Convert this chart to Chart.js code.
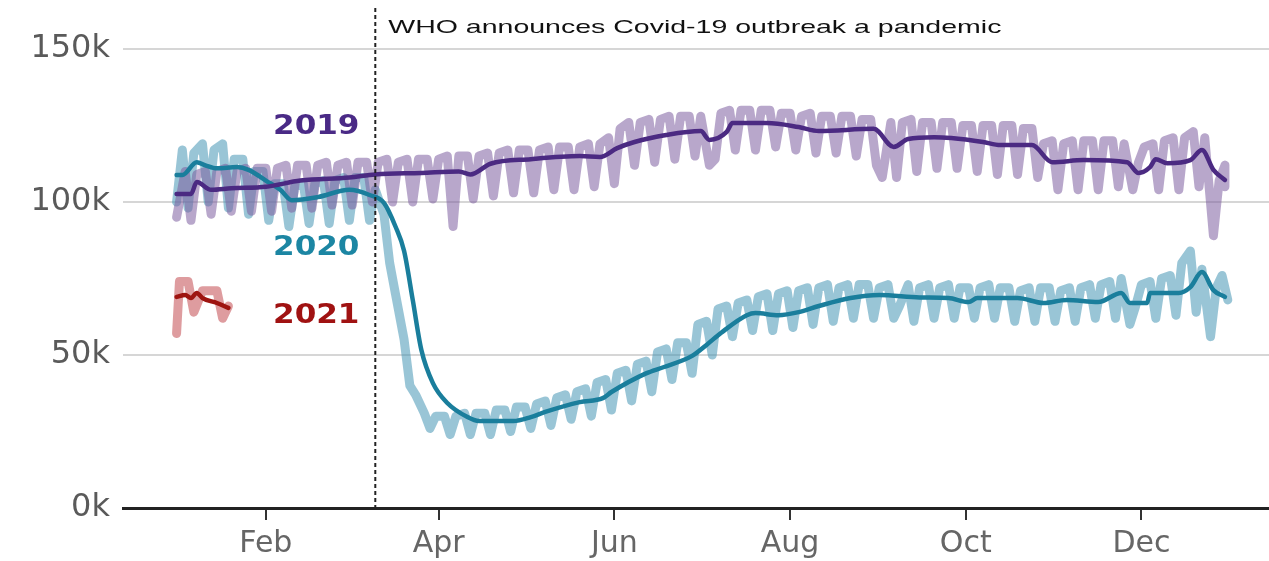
<!DOCTYPE html>
<html>
<head>
<meta charset="utf-8">
<script src="https://cdn.jsdelivr.net/npm/chart.js@4.4.1/dist/chart.umd.min.js"></script>
<style>
html, body { margin: 0; padding: 0; background: #fff; }
canvas { display: block; }
</style>
</head>
<body>
<canvas id="dailyChart" width="1269" height="561"></canvas>
<script>
// x = day of the year (0 = 1 Jan), values in thousands
var tickDays = [31, 91, 152, 213, 274, 335];
var tickLabels = ['Feb', 'Apr', 'Jun', 'Aug', 'Oct', 'Dec'];
var yTicks = [0, 50, 100, 150];
var pandemicDay = 69;
var pandemicNote = 'WHO announces Covid-19 outbreak a pandemic';
var years = ['2019', '2020', '2021'];

// daily counts read week by week: tuesday level, friday level, sunday low
var tue2019 = [95, 109, 110, 110, 111, 111, 112, 112, 112, 113, 113, 113, 114, 114, 115, 115, 116, 117, 117, 118, 118, 119,
  124, 126, 127, 128, 128, 129, 130, 130, 129, 128, 128, 128, 127, 108, 126, 126, 126, 125, 125, 125, 124, 119, 119, 120,
  120, 119, 118, 120, 121, 121, 112];
var fri2019 = [110, 110, 111, 111, 111, 112, 112, 113, 113, 113, 114, 114, 114, 115, 115, 116, 117, 117, 118, 118, 119, 121,
  126, 127, 128, 128, 112, 130, 130, 130, 129, 129, 128, 128, 127, 126, 127, 126, 126, 125, 125, 125, 124, 120, 120, 120,
  120, 104, 119, 121, 123, 89, 105];
var sun2019 = [94, 96, 97, 97, 97, 98, 98, 99, 99, 100, 100, 100, 101, 92, 101, 102, 103, 103, 104, 104, 105, 106,
  112, 113, 114, 115, 114, 117, 117, 118, 117, 116, 116, 115, 112, 108, 110, 111, 111, 110, 109, 109, 108, 104, 104, 104,
  105, 113, 104, 104, 105, 107];

var tue2020 = [100, 116, 117, 114, 110, 106, 105, 106, 107, 108, 104, 70, 37, 30, 30, 31, 32, 33, 34, 36, 38, 41,
  44, 47, 51, 54, 60, 65, 67, 69, 70, 71, 72, 72, 73, 72, 66, 72, 72, 72, 72, 72, 71, 72, 71, 72,
  73, 75, 73, 75, 80, 78, 76];
var fri2020 = [117, 119, 119, 114, 110, 106, 106, 107, 108, 108, 96, 55, 31, 30, 31, 31, 32, 33, 35, 37, 39, 42,
  45, 48, 52, 54, 61, 66, 68, 70, 71, 72, 73, 73, 73, 73, 73, 73, 73, 72, 73, 72, 72, 72, 72, 73,
  74, 60, 74, 76, 84, 56, 68];
var sun2020 = [98, 100, 98, 96, 94, 92, 93, 93, 94, 94, 80, 40, 26, 24, 24, 24, 25, 26, 27, 29, 30, 32,
  35, 38, 42, 44, 50, 56, 58, 58, 59, 60, 61, 62, 62, 62, 61, 62, 62, 62, 62, 61, 61, 61, 61, 62,
  62, 66, 62, 63, 64, 72];

var rawDays2021 = [0, 1, 4, 6, 9, 14, 16, 18];
var rawVals2021 = [57, 74, 74, 64, 71, 71, 62, 66];

// 7-day averages
var avgDays2019 = [0, 5, 7, 12, 19, 31, 43, 60, 69, 85, 98, 102, 109, 123, 140, 147, 153, 159, 170, 182,
  185, 191, 193, 205, 216, 223, 242, 249, 254, 263, 269, 280, 286, 297, 304, 315, 330, 334, 338, 340,
  344, 352, 356, 360, 364];
var avgVals2019 = [102.6, 102.6, 106.5, 104, 104.5, 105, 107, 108, 109, 109.5, 110, 109, 112.5, 114, 115, 114.7, 117.6, 119.6, 121.9, 123.2,
  120.3, 122.9, 125.8, 125.8, 124.5, 123.2, 123.9, 118, 120.6, 121.2, 120.9, 119.6, 118.6, 118.6, 113, 113.7, 113, 109.5, 111.4, 114,
  112.7, 113.7, 117, 110.5, 107.2];
var avgDays2020 = [0, 2, 7, 10, 14, 21, 25, 31, 36, 40, 49, 60, 67, 72, 76, 79, 82, 85, 89, 94,
  101, 105, 117, 123, 128, 140, 148, 151, 163, 169, 179, 184, 189, 198, 201, 209, 216, 223, 234, 244,
  258, 268, 275, 278, 292, 301, 309, 320, 328, 331, 337, 338, 348, 352, 356, 360, 364];
var avgVals2020 = [108.8, 108.8, 113, 112, 111, 111.4, 110.5, 107, 104, 100.6, 101.6, 104, 102.3, 99.7, 92, 84, 68, 51.6, 40.8, 34.3,
  29.7, 28.4, 28.4, 29.7, 31.4, 34.6, 35.9, 37.9, 44, 46, 49.7, 53.3, 57.2, 63, 63.7, 63, 64, 66, 68.6, 69.6,
  68.8, 68.6, 67.3, 68.6, 68.6, 67, 68, 67.3, 70.3, 67, 67, 70.3, 70.3, 72.2, 77.1, 71.2, 69];
var avgDays2021 = [0, 3, 5, 7, 9, 14, 18];
var avgVals2021 = [69, 69.6, 68.6, 70.3, 68.6, 67, 65.4];

// monday = day of year of the first week's monday
function weekly(tue, fri, sun, monday, lastDay) {
  var pts = [];
  for (var i = 0; i < tue.length; i++) {
    pts.push({x: Math.max(0, monday + 7 * i + 1), y: tue[i]});
    pts.push({x: Math.min(lastDay, monday + 7 * i + 4), y: fri[i]});
    if (i < sun.length) pts.push({x: monday + 7 * i + 6, y: sun[i]});
  }
  return pts;
}

function pairs(days, vals) {
  return days.map(function(d, i) { return {x: d, y: vals[i]}; });
}

function rawLine(data, color) {
  return {data: data, borderColor: color, borderWidth: 9, pointRadius: 0, tension: 0,
    borderJoinStyle: 'round', borderCapStyle: 'round', order: 2};
}

function avgLine(data, color) {
  return {data: data, borderColor: color, borderWidth: 4.5, pointRadius: 0,
    cubicInterpolationMode: 'monotone', borderJoinStyle: 'round', borderCapStyle: 'round', order: 1};
}

function wideText(ctx, text, x, y, font, color, sx) {
  ctx.save();
  ctx.font = font;
  ctx.fillStyle = color;
  ctx.textBaseline = 'middle';
  ctx.textAlign = 'left';
  ctx.translate(x, y);
  ctx.scale(sx, 1);
  ctx.fillText(text, 0, 0);
  ctx.restore();
}

var notes = {
  id: 'notes',
  afterDatasetsDraw: function(chart) {
    var ctx = chart.ctx, xs = chart.scales.x, ys = chart.scales.y, area = chart.chartArea;
    var px = xs.getPixelForValue(pandemicDay);
    ctx.save();
    ctx.strokeStyle = '#222';
    ctx.lineWidth = 2;
    ctx.setLineDash([4, 3]);
    ctx.beginPath();
    ctx.moveTo(px, area.top);
    ctx.lineTo(px, area.bottom);
    ctx.stroke();
    ctx.restore();

    wideText(ctx, pandemicNote, px + 13, ys.getPixelForValue(157), '19px "Liberation Sans"', '#111', 1.5);
    var at = [124.5, 85, 62.7];
    var colors = ['#4a2a86', '#1c86a3', '#a01212'];
    years.forEach(function(t, i) {
      wideText(ctx, t, xs.getPixelForValue(33.5), ys.getPixelForValue(at[i]), 'bold 27px "DejaVu Sans"', colors[i], 1.15);
    });
  }
};

new Chart(document.getElementById('dailyChart').getContext('2d'), {
  type: 'line',
  data: {
    datasets: [
      rawLine(weekly(tue2019, fri2019, sun2019, -1, 364), 'rgba(125, 95, 160, 0.55)'),
      rawLine(weekly(tue2020, fri2020, sun2020, -2, 365), 'rgba(70, 150, 180, 0.55)'),
      rawLine(pairs(rawDays2021, rawVals2021), 'rgba(200, 90, 95, 0.6)'),
      avgLine(pairs(avgDays2019, avgVals2019), '#4b2a82'),
      avgLine(pairs(avgDays2020, avgVals2020), '#1a7e9c'),
      avgLine(pairs(avgDays2021, avgVals2021), '#9e1410')
    ]
  },
  options: {
    responsive: false,
    animation: false,
    devicePixelRatio: 1,
    layout: {padding: {top: 8, left: 0, right: 0, bottom: 0}},
    plugins: {legend: {display: false}, tooltip: {enabled: false}},
    scales: {
      x: {
        type: 'linear',
        min: -18.6,
        max: 379.3,
        afterBuildTicks: function(s) { s.ticks = tickDays.map(function(d) { return {value: d}; }); },
        afterFit: function(s) { s.height = 53; s.paddingLeft = 0; s.paddingRight = 0; },
        ticks: {
          padding: 6,
          color: '#666',
          font: {family: '"DejaVu Sans"', size: 30},
          callback: function(v) { return tickLabels[tickDays.indexOf(v)]; }
        },
        grid: {drawOnChartArea: false, tickLength: 12, color: '#333', lineWidth: 2},
        border: {color: '#222', width: 3}
      },
      y: {
        min: 0,
        max: 163.4,
        afterBuildTicks: function(s) { s.ticks = yTicks.map(function(v) { return {value: v}; }); },
        afterFit: function(s) { s.width = 123; s.paddingTop = 0; s.paddingBottom = 0; },
        ticks: {
          padding: 13,
          color: '#5a5a5a',
          font: {family: '"DejaVu Sans"', size: 32},
          callback: function(v) { return v + 'k'; }
        },
        grid: {drawTicks: false, color: '#d6d6d6', lineWidth: 2},
        border: {display: false}
      }
    }
  },
  plugins: [notes]
});
</script>
</body>
</html>
